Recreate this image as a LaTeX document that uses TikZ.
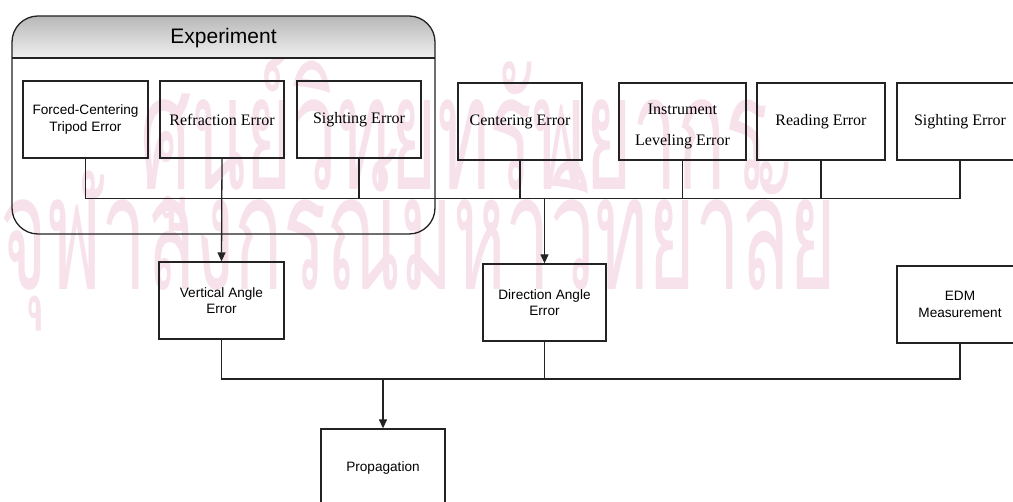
\documentclass[tikz,border=0pt]{standalone}
\usepackage{fontspec}
\setmainfont{Liberation Serif}
\newfontfamily\arialf{Liberation Sans}
\newfontfamily\thaifont[Script=Thai]{Loma}
\usetikzlibrary{arrows.meta}
\definecolor{wmpink}{RGB}{247,226,236}
\definecolor{linec}{RGB}{35,35,35}
\begin{document}
\begin{tikzpicture}[x=1pt,y=-1pt,
  conn/.style={draw=linec,line width=1.3pt},
  arr/.style={-{Triangle[length=9pt,width=8pt]}},
  tbox/.style={draw=linec,line width=1.3pt,fill=none,minimum height=77pt,inner sep=0pt,align=center,
    font=\fontsize{16}{19}\selectfont},
  abox/.style={draw=linec,line width=1.3pt,minimum height=77pt,inner sep=0pt,align=center,
    font=\arialf\fontsize{13.6}{16.5}\selectfont},
  wm/.style={text=wmpink,inner sep=0pt,font=\thaifont\fontsize{160}{160}\selectfont}]
\useasboundingbox (0,0) rectangle (1013,502);
\fill[white] (0,0) rectangle (1013,502);
% watermark
\node[wm,anchor=base west] (wm1) at (140,190) {\scalebox{0.5}[1]{ศูนย์วิทยทรัพยากร}};
\node[wm,anchor=base west] (wm2) at (0,290) {\scalebox{0.5}[1]{จุฬาลงกรณ์มหาวิทยาลัย}};
% experiment container
\begin{scope}
  \clip[rounded corners=26pt] (12,16) rectangle (435,234);
  \shade[top color=black!28,bottom color=black!6] (12,16) rectangle (435,58);
\end{scope}
\draw[conn,rounded corners=26pt] (12,16) rectangle (435,234);
\draw[conn] (12,58) -- (435,58);
\node[font=\arialf\fontsize{21}{24}\selectfont] (exptitle) at (223.5,38) {Experiment};
% top row
\node[abox,minimum width=125pt] (fce) at (85.5,119.5) {Forced-Centering\\Tripod Error};
\node[tbox,minimum width=124pt] (refr) at (222,119.5) {Refraction Error};
\node[tbox,minimum width=124pt] (sig1) at (359,119.5) {Sighting Error};
\node[tbox,minimum width=124pt] (cent) at (520,121.5) {Centering Error};
\node[tbox,minimum width=127pt,font=\fontsize{16}{31}\selectfont] (instr) at (682.5,121.5) {\mbox{}\\[-10pt]Instrument\\Leveling Error};
\node[tbox,minimum width=128pt] (read) at (821,121.5) {Reading Error};
\node[tbox,minimum width=126pt] (sig2) at (960,121.5) {Sighting Error};
% middle row
\node[abox,minimum width=125pt] (vae) at (221.5,300.5) {Vertical Angle\\Error};
\node[abox,minimum width=123pt] (dae) at (544.5,302.5) {Direction Angle\\Error};
\node[abox,minimum width=126pt] (edm) at (960,304.5) {EDM\\Measurement};
% bottom
\node[abox,minimum width=124pt,minimum height=78pt] (prop) at (383,468) {Propagation};
% buses
\coordinate (b1) at (0,198.5);
\coordinate (b2) at (0,379);
\draw[conn] (fce.south) -- (fce.south |- b1) -- (sig2.south |- b1) -- (sig2.south);
\foreach \n in {sig1,cent,instr,read} \draw[conn] (\n.south) -- (\n.south |- b1);
\draw[conn,arr] (refr.south) -- (vae.north);
\draw[conn,arr] (dae.north |- b1) -- (dae.north);
\draw[conn] (vae.south) -- (vae.south |- b2) -- (edm.south |- b2) -- (edm.south);
\draw[conn] (dae.south) -- (dae.south |- b2);
\draw[conn,arr] (prop.north |- b2) -- (prop.north);
\end{tikzpicture}
\end{document}
